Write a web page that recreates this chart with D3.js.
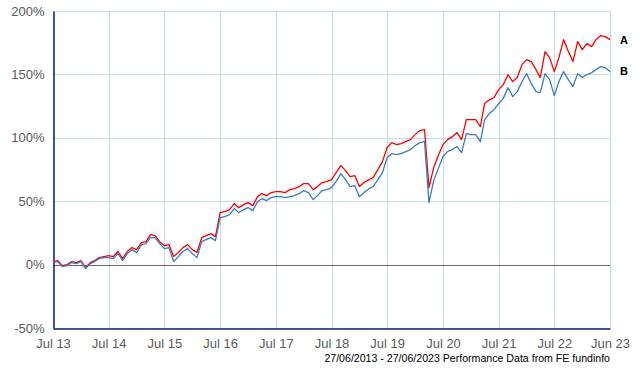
<!DOCTYPE html>
<html>
<head>
<meta charset="utf-8">
<script src="https://cdn.jsdelivr.net/npm/d3@7"></script>
<style>
  body { margin: 0; background: #fff; }
  svg { display: block; }
</style>
</head>
<body>
<script>
// chart data - cumulative performance (%), one value per month from 27/06/2013
var startDate = new Date(2013, 5, 27);
var endDate = new Date(2023, 5, 27);

var seriesA = [
  2.4, 3.2, -0.8, 0, 2.4, 1.6, 3.2, -2.4, 1.6, 3.2, 5.5, 6.3,
  7.1, 6.3, 10.3, 4.7, 10.3, 13.4, 11.8, 17.3, 18.1, 23.7, 22.9, 18.1,
  15.0, 15.8, 6.3, 9.5, 13.4, 15.8, 11.8, 9.5, 21.3, 22.9, 24.4, 22.1,
  41.0, 41.8, 43.4, 48.1, 44.9, 47.3, 48.9, 46.5, 53.6, 56.0, 54.4, 56.8,
  57.6, 57.6, 56.8, 59.1, 59.9, 61.5, 63.9, 63.9, 59.1, 61.5, 64.7, 65.5,
  67.0, 72.6, 78.1, 74.1, 69.4, 70.2, 61.5, 64.7, 67.0, 68.6, 74.9, 81.2,
  92.3, 96.2, 94.6, 95.4, 97.0, 98.6, 102.5, 105.7, 106.5, 60.7, 76.5, 86.0,
  94.6, 98.6, 100.9, 104.1, 98.6, 114.3, 114.3, 114.3, 108.8, 127.0, 130.1, 131.7,
  138.0, 141.9, 149.8, 144.3, 147.5, 157.7, 161.7, 160.1, 153.8, 147.5, 168.0, 163.2,
  152.2, 163.2, 177.4, 168.0, 160.1, 175.9, 169.5, 174.3, 171.9, 177.4, 180.6, 179.8,
  177.4
];

var seriesB = [
  1.6, 2.4, -1.6, -0.8, 1.6, 0.8, 2.4, -3.2, 0.8, 2.4, 4.7, 5.5,
  5.5, 4.7, 8.7, 3.2, 8.7, 11.8, 9.5, 15.8, 16.6, 21.3, 21.3, 16.6,
  12.6, 13.4, 2.4, 6.3, 10.3, 12.6, 8.7, 5.5, 18.1, 19.7, 21.3, 18.9,
  37.1, 37.9, 39.4, 44.2, 41.0, 43.4, 45.0, 42.6, 49.7, 52.0, 50.5, 52.8,
  53.6, 53.6, 52.8, 53.6, 54.4, 56.0, 58.4, 56.8, 51.3, 54.4, 58.4, 59.1,
  60.7, 65.5, 71.8, 67.0, 61.5, 62.3, 53.6, 56.8, 59.9, 61.5, 67.0, 72.6,
  84.4, 87.5, 86.7, 87.5, 89.1, 90.7, 93.8, 96.2, 97.0, 48.9, 66.2, 75.7,
  85.2, 89.1, 90.7, 93.1, 88.3, 103.3, 102.5, 102.5, 97.0, 114.3, 119.1, 122.2,
  127.0, 130.9, 139.6, 132.5, 136.4, 144.3, 150.6, 142.7, 136.4, 135.6, 150.6, 145.9,
  133.3, 144.3, 152.2, 145.9, 140.4, 150.6, 147.5, 149.8, 151.4, 153.8, 156.1, 155.3,
  152.2
];

var xTickLabels = ["Jul 13", "Jul 14", "Jul 15", "Jul 16", "Jul 17", "Jul 18",
                   "Jul 19", "Jul 20", "Jul 21", "Jul 22", "Jun 23"];
var yTickValues = [-50, 0, 50, 100, 150, 200];
var seriesNames = ["A", "B"];
var seriesColors = ["#ff0000", "#3a7cc0"];
var footnote = "27/06/2013 - 27/06/2023 Performance Data from FE fundinfo";

// layout
var width = 640, height = 370;
var margin = { left: 53, right: 30, top: 11, bottom: 42 };
var font = "'Liberation Sans', Arial, sans-serif";

var svg = d3.select("body").append("svg")
  .attr("width", width)
  .attr("height", height);

var x = d3.scaleTime()
  .domain([startDate, endDate])
  .range([margin.left, width - margin.right]);

var y = d3.scaleLinear()
  .domain([-50, 200])
  .range([height - margin.bottom, margin.top]);

var xTicks = xTickLabels.map(function(d, i) {
  return d3.timeYear.offset(startDate, i);
});

// gridlines
svg.append("g")
  .selectAll("line")
  .data(xTicks)
  .enter()
  .append("line")
  .attr("x1", function(d) { return Math.round(x(d)) + 0.5; })
  .attr("x2", function(d) { return Math.round(x(d)) + 0.5; })
  .attr("y1", margin.top)
  .attr("y2", height - margin.bottom)
  .attr("stroke", "#c9dbe6");

svg.append("g")
  .selectAll("line")
  .data(yTickValues)
  .enter()
  .append("line")
  .attr("x1", margin.left)
  .attr("x2", width - margin.right)
  .attr("y1", function(d) { return Math.round(y(d)) + 0.5; })
  .attr("y2", function(d) { return Math.round(y(d)) + 0.5; })
  .attr("stroke", function(d) { return d === 0 ? "#666" : "#c9dbe6"; });

// axes
var yAxis = svg.append("g")
  .attr("transform", "translate(" + (margin.left + 0.5) + ",0)")
  .call(d3.axisLeft(y).tickValues(yTickValues).tickSize(0).tickPadding(9)
    .tickFormat(function(d) { return d + "%"; }));

var xAxis = svg.append("g")
  .attr("transform", "translate(0," + (height - margin.bottom + 0.5) + ")")
  .call(d3.axisBottom(x).tickValues(xTicks).tickSize(0).tickPadding(10)
    .tickFormat(function(d, i) { return xTickLabels[i]; }));

[xAxis, yAxis].forEach(function(ax) {
  ax.select(".domain").attr("stroke", "#0a1f7a").attr("stroke-width", 1.5);
  ax.selectAll("text")
    .attr("fill", "#5a5a5a")
    .style("font-family", font)
    .style("font-size", "13px");
});

// series lines
var dates = seriesA.map(function(d, i) {
  return d3.timeMonth.offset(startDate, i);
});

var line = d3.line()
  .x(function(d, i) { return x(dates[i]); })
  .y(function(d) { return y(d); });

[seriesA, seriesB].forEach(function(s, k) {
  svg.append("path")
    .datum(s)
    .attr("fill", "none")
    .attr("stroke", seriesColors[k])
    .attr("stroke-width", 1.3)
    .attr("stroke-linejoin", "round")
    .attr("d", line);

  svg.append("text")
    .attr("x", width - margin.right + 10)
    .attr("y", y(s[s.length - 1]))
    .attr("dy", "0.35em")
    .style("font-family", font)
    .style("font-size", "11px")
    .style("font-weight", "bold")
    .text(seriesNames[k]);
});

// footnote
svg.append("text")
  .attr("x", width - margin.right)
  .attr("y", 362)
  .attr("text-anchor", "end")
  .style("font-family", font)
  .style("font-size", "10.6px")
  .attr("fill", "#000")
  .text(footnote);
</script>
</body>
</html>
